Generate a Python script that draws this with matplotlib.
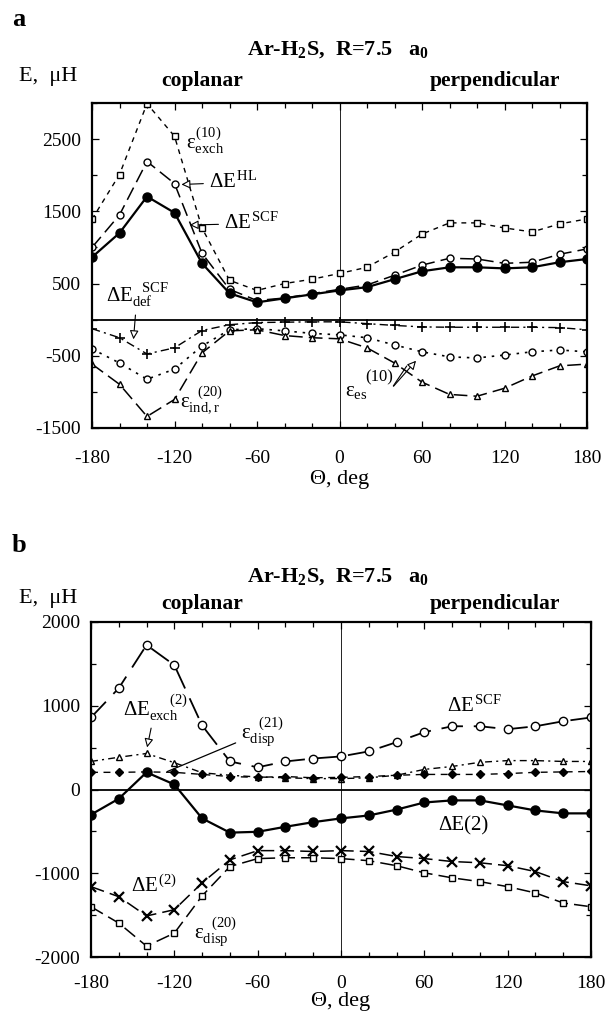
import numpy as np
import matplotlib
matplotlib.use("Agg")
import matplotlib.pyplot as plt
from matplotlib.ticker import MultipleLocator, FixedLocator

plt.rcParams['font.family'] = ['Liberation Serif', 'DejaVu Serif']
plt.rcParams['mathtext.fontset'] = 'custom'
plt.rcParams['mathtext.rm'] = 'Liberation Serif'
plt.rcParams['mathtext.it'] = 'Liberation Serif'
plt.rcParams['mathtext.bf'] = 'Liberation Serif:bold'

# angle grid (deg)
theta = [-180, -160, -140, -120, -100, -80, -60, -40, -20, 0,
         20, 40, 60, 80, 100, 120, 140, 160, 180]

# panel a : first order / SCF terms (microhartree)
exch10 = [1390, 2010, 2990, 2540, 1270, 545, 405, 500, 560, 640,
          725, 935, 1185, 1340, 1340, 1270, 1215, 1325, 1395]
dE_HL = [1000, 1450, 2190, 1885, 920, 420, 265, 300, 360, 420,
         480, 615, 755, 850, 840, 780, 795, 905, 980]
dE_SCF = [865, 1200, 1705, 1480, 780, 365, 240, 295, 350, 405,
          450, 560, 670, 725, 725, 710, 725, 795, 840]
dE_def = [-125, -250, -475, -390, -150, -70, -40, -35, -30, -30,
          -55, -80, -100, -105, -105, -105, -105, -110, -140]
es10 = [-405, -600, -825, -685, -365, -140, -125, -155, -190, -210,
        -250, -350, -445, -515, -530, -490, -445, -420, -445]
ind20 = [-615, -895, -1340, -1105, -460, -155, -140, -220, -250, -265,
         -390, -600, -865, -1035, -1060, -950, -780, -640, -615]

# panel b : correlation terms
scf_b = [860, 1210, 1725, 1485, 765, 335, 265, 335, 370, 395,
         455, 565, 685, 755, 755, 720, 755, 815, 860]
exch2 = [335, 385, 430, 320, 200, 170, 150, 140, 130, 130,
         140, 170, 240, 275, 325, 345, 345, 335, 335]
disp21 = [205, 205, 210, 205, 180, 155, 145, 155, 140, 145,
          155, 170, 180, 180, 180, 190, 205, 210, 215]
dE_2 = [-300, -110, 205, 60, -345, -515, -505, -445, -390, -345,
        -310, -240, -155, -130, -130, -190, -250, -285, -285]
dE2_sup = [-1160, -1280, -1510, -1435, -1115, -840, -730, -730, -740, -730,
           -740, -800, -825, -860, -875, -910, -980, -1100, -1150]
disp20 = [-1400, -1595, -1870, -1715, -1270, -920, -825, -815, -815, -825,
          -850, -910, -995, -1055, -1100, -1160, -1235, -1355, -1400]

W, H = 605, 1015
fig = plt.figure(figsize=(W / 100, H / 100), dpi=100)


def fx(px):
    return px / W


def fy(py):
    return 1 - py / H


ax_a = fig.add_axes([fx(92), fy(428), fx(587 - 92), (428 - 103) / H])
ax_b = fig.add_axes([fx(91), fy(957), fx(591 - 91), (957 - 622) / H])

fs = 14
hollow = dict(arrowstyle='-|>', fc='white', ec='black', lw=0.8, mutation_scale=13)


def frame(ax, ylim, ylabels, xpad, labelpad):
    ax.set_xlim(-180, 180)
    ax.set_ylim(*ylim)
    ax.axhline(0, color='black', lw=1.3, zorder=1)
    ax.axvline(0, color='black', lw=0.6, zorder=1)
    ax.xaxis.set_major_locator(FixedLocator([-180, -120, -60, 0, 60, 120, 180]))
    ax.xaxis.set_minor_locator(MultipleLocator(20))
    ax.yaxis.set_major_locator(FixedLocator(ylabels))
    ax.yaxis.set_minor_locator(MultipleLocator(500))
    ax.set_xticklabels(['-180', '-120', '-60', '0', '60', '120', '180'])
    ax.set_yticklabels([str(v) for v in ylabels])
    ax.tick_params(which='both', direction='in', top=True, right=True,
                   labelsize=fs, width=0.9)
    ax.tick_params(which='major', length=5)
    ax.tick_params(which='minor', length=3.5)
    ax.tick_params(axis='x', which='major', pad=xpad)
    ax.tick_params(axis='y', which='major', pad=8)
    for s in ax.spines.values():
        s.set_linewidth(1.6)
    ax.set_xlabel('Θ, deg', fontsize=fs + 2, labelpad=labelpad)


# ---------- panel a ----------
ax = ax_a
frame(ax, (-1500, 3000), [-1500, -500, 500, 1500, 2500], 16, 2)
ax.plot(theta, exch10, color='black', lw=1, ls=(0, (3.5, 3.5)),
        marker='s', ms=5, mfc='white', mec='black')
ax.plot(theta, dE_HL, color='black', lw=1.1, ls=(0, (9, 4)),
        marker='o', ms=5, mfc='white', mec='black')
ax.plot(theta, dE_SCF, color='black', lw=1.6, marker='o', ms=6.5,
        mfc='black', mec='black')
ax.plot(theta, dE_def, color='black', lw=1, ls=(0, (6, 3, 1.5, 3)),
        marker='+', ms=7, mew=1.2)
ax.plot(theta, es10, color='black', lw=1.2, ls=(0, (1.5, 3.5)),
        marker='o', ms=5, mfc='white', mec='black')
ax.plot(theta, ind20, color='black', lw=1.1, ls=(0, (9, 4)),
        marker='^', ms=5, mfc='white', mec='black')

ax.text(-112, 2480, r'$ε_{exch}^{(10)}$', fontsize=fs + 1, va='center')
ax.annotate(r'$ΔE^{HL}$', xy=(-117, 1870), xytext=(-95, 1900),
            fontsize=fs + 1, va='center', arrowprops=hollow)
ax.annotate(r'$ΔE^{SCF}$', xy=(-111, 1310), xytext=(-84, 1330),
            fontsize=fs + 1, va='center', arrowprops=hollow)
ax.annotate(r'$ΔE_{def}^{\ \ SCF}$', xy=(-150, -310), xytext=(-170, 330),
            fontsize=fs + 1, va='center', arrowprops=hollow)
ax.text(-116, -1120, r'$ε_{ind,r}^{\ \ (20)}$', fontsize=fs + 1, va='center')
ax.text(4, -1000, r'$ε_{es}$', fontsize=fs + 1, va='center')
ax.text(19, -800, '(10)', fontsize=fs - 2, va='center')
ax.annotate('', xy=(57, -540), xytext=(38, -950), arrowprops=hollow)
ax.annotate('', xy=(50, -610), xytext=(38, -950),
            arrowprops=dict(arrowstyle='-', lw=0.8))

fig.text(fx(12), fy(20), 'a', fontsize=fs + 5, fontweight='bold', va='center')
fig.text(fx(338), fy(50), r'Ar-H$_\mathbf{2}$S,  R=7.5   a$_\mathbf{0}$',
         fontsize=16, fontweight='bold', ha='center', va='center')
fig.text(fx(19), fy(77), 'E,  μH', fontsize=16, va='center')
fig.text(fx(202), fy(81), 'coplanar', fontsize=15.5, fontweight='bold',
         ha='center', va='center')
fig.text(fx(495), fy(81), 'perpendicular', fontsize=15.5, fontweight='bold',
         ha='center', va='center')

# ---------- panel b ----------
ax = ax_b
frame(ax, (-2000, 2000), [-2000, -1000, 0, 1000, 2000], 13, 0)
ax.plot(theta, scf_b, color='black', lw=1.3, ls=(0, (12, 6)),
        marker='o', ms=6, mfc='white', mec='black')
ax.plot(theta, exch2, color='black', lw=1, ls=(0, (5, 3, 1.5, 3)),
        marker='^', ms=4.5, mfc='white', mec='black')
ax.plot(theta, disp21, color='black', lw=1, ls=(0, (5, 4)),
        marker='D', ms=4, mfc='black', mec='black')
ax.plot(theta, dE_2, color='black', lw=1.6, marker='o', ms=6.5,
        mfc='black', mec='black')
ax.plot(theta, dE2_sup, color='black', lw=1.1, ls=(0, (9, 4)),
        marker='x', ms=6.5, mew=1.6)
ax.plot(theta, disp20, color='black', lw=1.1, ls=(0, (9, 4)),
        marker='s', ms=5, mfc='white', mec='black')

ax.annotate(r'$ΔE_{exch}^{\ \ \ \ \ (2)}$', xy=(-140, 470), xytext=(-157, 980),
            fontsize=fs + 1, va='center', arrowprops=hollow)
ax.annotate(r'$ε_{disp}^{\ \ (21)}$', xy=(-125, 215), xytext=(-72, 690),
            fontsize=fs + 1, va='center',
            arrowprops=dict(arrowstyle='-', lw=0.9, shrinkA=2, shrinkB=0))
ax.text(76, 1000, r'$ΔE^{SCF}$', fontsize=fs + 1, va='center')
ax.text(70, -430, 'ΔE(2)', fontsize=fs + 1, va='center')
ax.text(-151, -1160, r'$ΔE^{(2)}$', fontsize=fs + 1, va='center')
ax.text(-106, -1700, r'$ε_{disp}^{\ \ (20)}$', fontsize=fs + 1, va='center')

fig.text(fx(12), fy(545), 'b', fontsize=fs + 5, fontweight='bold', va='center')
fig.text(fx(338), fy(577), r'Ar-H$_\mathbf{2}$S,  R=7.5   a$_\mathbf{0}$',
         fontsize=16, fontweight='bold', ha='center', va='center')
fig.text(fx(19), fy(598), 'E,  μH', fontsize=16, va='center')
fig.text(fx(202), fy(604), 'coplanar', fontsize=15.5, fontweight='bold',
         ha='center', va='center')
fig.text(fx(495), fy(604), 'perpendicular', fontsize=15.5, fontweight='bold',
         ha='center', va='center')

fig.savefig('out.png', dpi=100)
